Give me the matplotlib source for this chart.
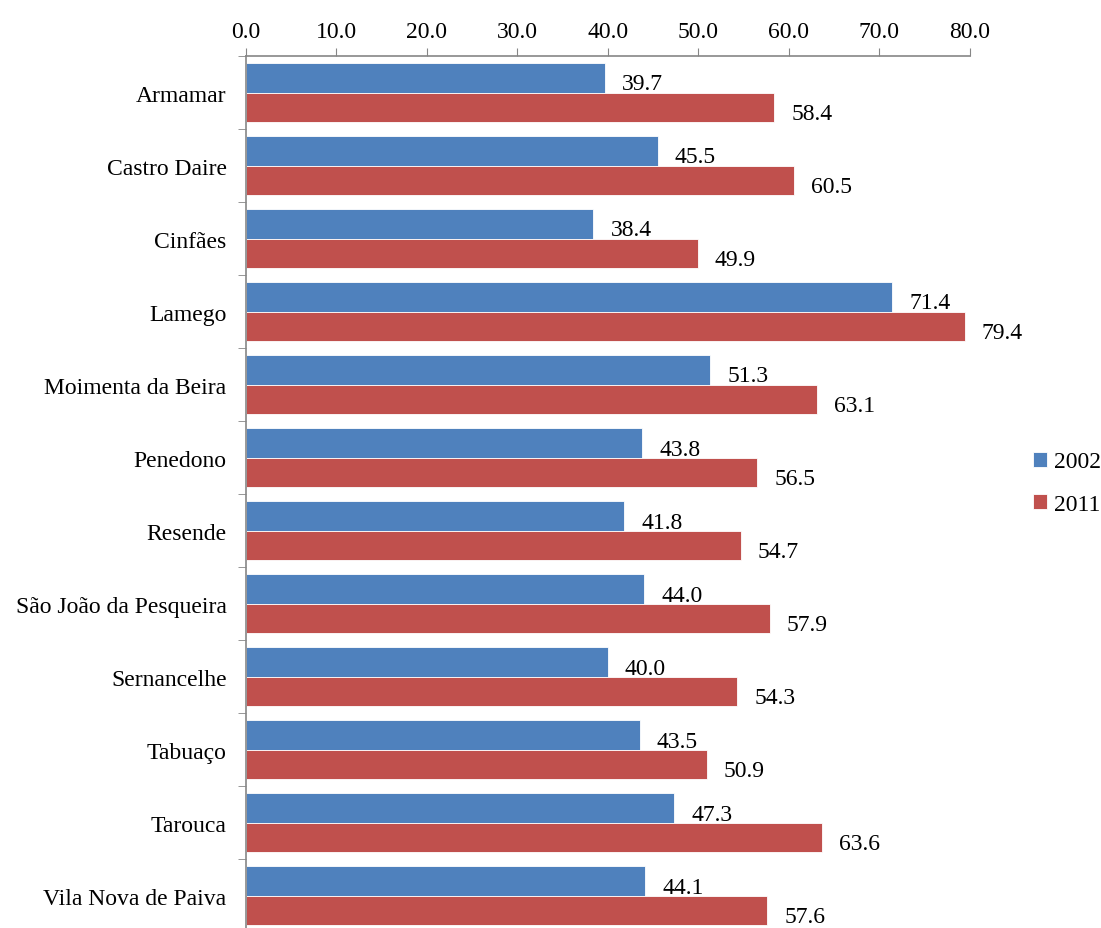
import matplotlib.pyplot as plt
import numpy as np

plt.rcParams['font.family'] = ['Liberation Serif', 'DejaVu Serif']

municipios = ['Armamar', 'Castro Daire', 'Cinfães', 'Lamego', 'Moimenta da Beira',
              'Penedono', 'Resende', 'São João da Pesqueira', 'Sernancelhe',
              'Tabuaço', 'Tarouca', 'Vila Nova de Paiva']
v2002 = [39.7, 45.5, 38.4, 71.4, 51.3, 43.8, 41.8, 44.0, 40.0, 43.5, 47.3, 44.1]
v2011 = [58.4, 60.5, 49.9, 79.4, 63.1, 56.5, 54.7, 57.9, 54.3, 50.9, 63.6, 57.6]
xticks = np.arange(0, 81, 10)

blue = '#4F81BD'
red = '#C0504D'
grey = '#868686'

fig = plt.figure(figsize=(11.01, 9.29), dpi=100)
ax = fig.add_axes([0.2234, -0.0045, 0.6576, 0.9431])

idx = np.arange(len(municipios))
h = 0.4
b1 = ax.barh(idx - h / 2, v2002, height=h, color=blue, edgecolor='white', linewidth=0.6, label='2002')
b2 = ax.barh(idx + h / 2, v2011, height=h, color=red, edgecolor='white', linewidth=0.6, label='2011')

# value labels just right of each bar end
for bars, vals in ((b1, v2002), (b2, v2011)):
    for bar, v in zip(bars, vals):
        ax.annotate('%.1f' % v, xy=(v, bar.get_y() + bar.get_height() / 2),
                    xytext=(17, -6), textcoords='offset pixels',
                    ha='left', va='center', fontsize=17)

ax.set_xlim(0, 80)
ax.set_ylim(len(municipios) - 0.5, -0.5)
ax.xaxis.tick_top()
ax.set_xticks(xticks)
ax.set_xticklabels(['%.1f' % t for t in xticks], fontsize=17)
ax.tick_params(axis='x', length=6, color=grey, pad=4)

# category labels centred, tick marks at band boundaries
ax.set_yticks(idx)
ax.set_yticklabels(municipios, fontsize=17)
ax.tick_params(axis='y', which='major', length=0, pad=14)
ax.set_yticks(np.arange(-0.5, len(municipios) + 0.5, 1), minor=True)
ax.tick_params(axis='y', which='minor', length=6, color=grey)

for s in ('right', 'bottom'):
    ax.spines[s].set_visible(False)
for s in ('top', 'left'):
    ax.spines[s].set_color(grey)
    ax.spines[s].set_linewidth(1.2)

fig.legend(handles=[b1, b2], labels=['2002', '2011'], loc='center left',
           bbox_to_anchor=(0.938, 0.479), frameon=False, fontsize=17,
           borderpad=0, borderaxespad=0,
           handlelength=0.6, handleheight=0.6, handletextpad=0.3, labelspacing=0.9)

fig.savefig('out.png', dpi=100)
